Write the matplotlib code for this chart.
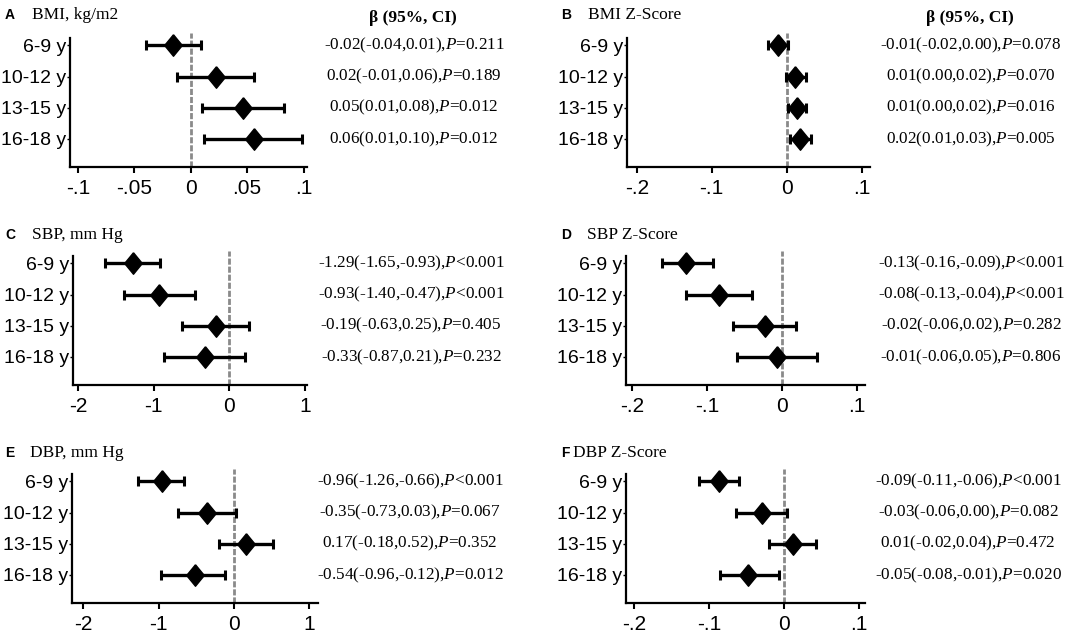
import matplotlib
matplotlib.use("Agg")
import matplotlib.pyplot as plt
from matplotlib import transforms
import numpy as np

plt.rcParams['mathtext.fontset'] = 'custom'
plt.rcParams['mathtext.rm'] = 'Liberation Serif'
plt.rcParams['mathtext.it'] = 'Liberation Serif:italic'

# ---------------- data ----------------
groups = ["6-9 y", "10-12 y", "13-15 y", "16-18 y"]

bmi_est = [-0.016, 0.022, 0.046, 0.056]
bmi_lo = [-0.040, -0.012, 0.010, 0.012]
bmi_hi = [0.009, 0.056, 0.083, 0.099]
bmi_txt = ["-0.02(-0.04,0.01),$\\mathit{P}$=0.211",
           "0.02(-0.01,0.06),$\\mathit{P}$=0.189",
           "0.05(0.01,0.08),$\\mathit{P}$=0.012",
           "0.06(0.01,0.10),$\\mathit{P}$=0.012"]

bmiz_est = [-0.012, 0.011, 0.013, 0.018]
bmiz_lo = [-0.025, -0.001, 0.002, 0.004]
bmiz_hi = [0.001, 0.025, 0.025, 0.032]
bmiz_txt = ["-0.01(-0.02,0.00),$\\mathit{P}$=0.078",
            "0.01(0.00,0.02),$\\mathit{P}$=0.070",
            "0.01(0.00,0.02),$\\mathit{P}$=0.016",
            "0.02(0.01,0.03),$\\mathit{P}$=0.005"]

sbp_est = [-1.28, -0.93, -0.18, -0.32]
sbp_lo = [-1.65, -1.40, -0.63, -0.87]
sbp_hi = [-0.92, -0.46, 0.26, 0.21]
sbp_txt = ["-1.29(-1.65,-0.93),$\\mathit{P}$<0.001",
           "-0.93(-1.40,-0.47),$\\mathit{P}$<0.001",
           "-0.19(-0.63,0.25),$\\mathit{P}$=0.405",
           "-0.33(-0.87,0.21),$\\mathit{P}$=0.232"]

sbpz_est = [-0.128, -0.084, -0.023, -0.007]
sbpz_lo = [-0.160, -0.128, -0.065, -0.060]
sbpz_hi = [-0.092, -0.040, 0.019, 0.047]
sbpz_txt = ["-0.13(-0.16,-0.09),$\\mathit{P}$<0.001",
            "-0.08(-0.13,-0.04),$\\mathit{P}$<0.001",
            "-0.02(-0.06,0.02),$\\mathit{P}$=0.282",
            "-0.01(-0.06,0.05),$\\mathit{P}$=0.806"]

dbp_est = [-0.96, -0.36, 0.16, -0.52]
dbp_lo = [-1.27, -0.74, -0.19, -0.97]
dbp_hi = [-0.66, 0.03, 0.52, -0.11]
dbp_txt = ["-0.96(-1.26,-0.66),$\\mathit{P}$<0.001",
           "-0.35(-0.73,0.03),$\\mathit{P}$=0.067",
           "0.17(-0.18,0.52),$\\mathit{P}$=0.352",
           "-0.54(-0.96,-0.12),$\\mathit{P}$=0.012"]

dbpz_est = [-0.087, -0.029, 0.012, -0.048]
dbpz_lo = [-0.113, -0.064, -0.020, -0.085]
dbpz_hi = [-0.060, 0.004, 0.042, -0.007]
dbpz_txt = ["-0.09(-0.11,-0.06),$\\mathit{P}$<0.001",
            "-0.03(-0.06,0.00),$\\mathit{P}$=0.082",
            "0.01(-0.02,0.04),$\\mathit{P}$=0.472",
            "-0.05(-0.08,-0.01),$\\mathit{P}$=0.020"]

ticks_small = [-0.1, -0.05, 0, 0.05, 0.1]
ticklabels_small = ["-.1", "-.05", "0", ".05", ".1"]
ticks_z = [-0.2, -0.1, 0, 0.1]
ticklabels_z = ["-.2", "-.1", "0", ".1"]
ticks_bp = [-2, -1, 0, 1]
ticklabels_bp = ["-2", "-1", "0", "1"]

header = "β (95%, CI)"

# ---------------- layout ----------------
W, H = 1084, 633
fig = plt.figure(figsize=(W / 100, H / 100), dpi=100)

panels = [
    dict(letter="A", title="BMI, kg/m2", est=bmi_est, lo=bmi_lo, hi=bmi_hi, txt=bmi_txt,
         ticks=ticks_small, tl=ticklabels_small, l=70, r=307, b=167, xlim=(-0.107, 0.103),
         txtx=414, letx=5, titx=32, ty=15, head=True),
    dict(letter="B", title="BMI Z-Score", est=bmiz_est, lo=bmiz_lo, hi=bmiz_hi, txt=bmiz_txt,
         ticks=ticks_z, tl=ticklabels_z, l=627, r=870, b=167, xlim=(-0.213, 0.111),
         txtx=971, letx=561, titx=588, ty=15, head=True),
    dict(letter="C", title="SBP, mm Hg", est=sbp_est, lo=sbp_lo, hi=sbp_hi, txt=sbp_txt,
         ticks=ticks_bp, tl=ticklabels_bp, l=73, r=307, b=385, xlim=(-2.07, 1.03),
         txtx=411, letx=5, titx=32, ty=235, head=False),
    dict(letter="D", title="SBP Z-Score", est=sbpz_est, lo=sbpz_lo, hi=sbpz_hi, txt=sbpz_txt,
         ticks=ticks_z, tl=ticklabels_z, l=626, r=865, b=385, xlim=(-0.208, 0.111),
         txtx=971, letx=561, titx=587, ty=235, head=False),
    dict(letter="E", title="DBP, mm Hg", est=dbp_est, lo=dbp_lo, hi=dbp_hi, txt=dbp_txt,
         ticks=ticks_bp, tl=ticklabels_bp, l=72, r=318, b=603, xlim=(-2.15, 1.12),
         txtx=410, letx=5, titx=30, ty=453, head=False),
    dict(letter="F", title="DBP Z-Score", est=dbpz_est, lo=dbpz_lo, hi=dbpz_hi, txt=dbpz_txt,
         ticks=ticks_z, tl=ticklabels_z, l=626, r=865, b=603, xlim=(-0.211, 0.108),
         txtx=968, letx=561, titx=573, ty=453, head=False),
]

diamond = [(0, 1), (0.82, 0), (0, -1), (-0.82, 0), (0, 1)]
ypos = np.arange(1, len(groups) + 1)
AXH = 134

for p in panels:
    ax = fig.add_axes([p["l"] / W, (H - p["b"]) / H, (p["r"] - p["l"]) / W, AXH / H])
    est = np.array(p["est"]); lo = np.array(p["lo"]); hi = np.array(p["hi"])
    ax.set_xlim(*p["xlim"])
    ax.set_ylim(4.9, 0.6)
    ax.axvline(0, color="#8a8a8a", lw=2.0, ls=(0, (2.2, 0.7)), zorder=1)
    ax.errorbar(est, ypos, xerr=[est - lo, hi - est], fmt="none", ecolor="black",
                elinewidth=2.4, capsize=3.6, capthick=2.2, zorder=2)
    ax.plot(est, ypos, marker=diamond, ms=15.5, color="black", ls="none", zorder=3)
    for s in ("top", "right"):
        ax.spines[s].set_visible(False)
    for s in ("left", "bottom"):
        ax.spines[s].set_linewidth(1.6)
    ax.spines["left"].set_bounds(4.9, 0.76)
    ax.set_yticks(ypos)
    ax.set_yticklabels(groups, fontfamily="Liberation Sans", fontsize=14)
    ax.set_xticks(p["ticks"])
    ax.set_xticklabels(p["tl"], fontfamily="Liberation Sans", fontsize=15)
    ax.tick_params(axis="y", length=2, width=1, pad=1)
    ax.tick_params(axis="x", length=4, width=1.5, pad=5)
    ax.patch.set_alpha(0)

    trans = transforms.blended_transform_factory(fig.transFigure, ax.transData)
    for yi, s in zip(ypos, p["txt"]):
        ax.text(p["txtx"] / W, yi, s, transform=trans, ha="center", va="center",
                fontsize=12.3, fontfamily="Liberation Serif", clip_on=False)

    fig.text(p["letx"] / W, 1 - p["ty"] / H, p["letter"], fontfamily="Liberation Sans",
             fontweight="bold", fontsize=10, va="center", ha="left")
    fig.text(p["titx"] / W, 1 - p["ty"] / H, p["title"], fontfamily="Liberation Serif",
             fontsize=12.5, va="center", ha="left")
    if p["head"]:
        fig.text((p["txtx"] - 1) / W, 1 - 18 / H, header, fontfamily="Liberation Serif",
                 fontweight="bold", fontsize=12.5, va="center", ha="center")

fig.savefig("out.png", dpi=100)
